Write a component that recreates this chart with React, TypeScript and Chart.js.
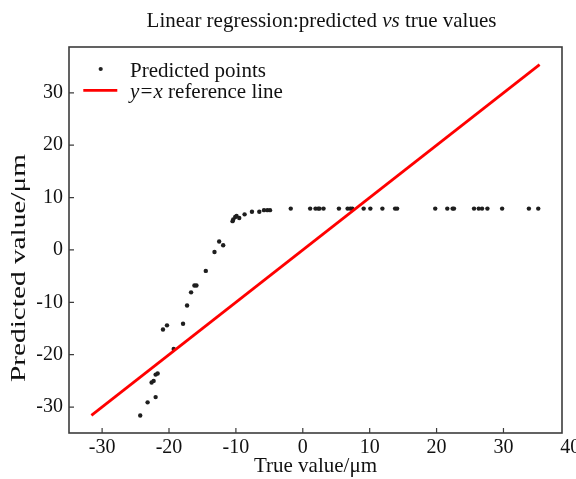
import React, { useEffect, useRef } from "react";
import { Chart, registerables } from "chart.js";

Chart.register(...registerables);

const trueVals = [
  -24.3, -23.2, -22.0, -22.6, -22.3, -22.0, -21.7, -19.3, -20.9, -20.3,
  -17.9, -17.3, -16.7, -16.2, -15.9, -14.5, -13.2, -12.5, -11.9, -10.5,
  -10.4, -10.1, -9.9, -9.5, -8.7, -7.6, -6.5, -5.8, -5.3, -4.9,
  -1.8, 1.1, 1.9, 2.3, 2.5, 3.1, 5.4, 6.7, 7.1, 7.4,
  9.1, 10.1, 11.9, 13.8, 14.1, 19.8, 21.6, 22.4, 22.6, 25.6,
  26.3, 26.8, 27.6, 29.8, 33.8, 35.2,
];
const predVals = [
  -31.6, -29.1, -28.1, -25.3, -25.0, -23.8, -23.6, -18.9, -15.2, -14.4,
  -14.1, -10.6, -8.1, -6.8, -6.8, -4.0, -0.4, 1.6, 0.9, 5.5,
  5.8, 6.3, 6.5, 6.1, 6.8, 7.3, 7.3, 7.6, 7.6, 7.6,
  7.9, 7.9, 7.9, 7.9, 7.9, 7.9, 7.9, 7.9, 7.9, 7.9,
  7.9, 7.9, 7.9, 7.9, 7.9, 7.9, 7.9, 7.9, 7.9, 7.9,
  7.9, 7.9, 7.9, 7.9, 7.9, 7.9,
];
const refLine = [-31.6, 35.4];
const xTicks = [-30, -20, -10, 0, 10, 20, 30, 40];
const yTicks = [-30, -20, -10, 0, 10, 20, 30];
const axisMin = -34.95;
const axisMax = 38.75;
const yTitle = "Predicted value/μm";

const FONT = "'Liberation Serif', 'Times New Roman', serif";
const FRAME = "#3c3c3c";

const framePlugin = {
  id: "frameAndTicks",
  afterDraw(chart: any) {
    const { ctx, chartArea } = chart;
    const { left, right, top, bottom } = chartArea;
    const xs = chart.scales.x;
    const ys = chart.scales.y;
    ctx.save();
    ctx.strokeStyle = FRAME;
    ctx.lineWidth = 1.6;
    ctx.strokeRect(left, top, right - left, bottom - top);
    ctx.lineWidth = 1.2;
    ctx.beginPath();
    for (const v of xTicks) {
      const px = xs.getPixelForValue(v);
      if (px > right + 0.5) continue;
      ctx.moveTo(px, bottom);
      ctx.lineTo(px, bottom - 5);
    }
    for (const v of yTicks) {
      const py = ys.getPixelForValue(v);
      ctx.moveTo(left, py);
      ctx.lineTo(left + 5, py);
    }
    ctx.stroke();

    // Title
    ctx.fillStyle = "#111";
    ctx.textBaseline = "alphabetic";
    const parts = [
      { t: "Linear regression:predicted ", f: `21px ${FONT}` },
      { t: "vs", f: `italic 21px ${FONT}` },
      { t: " true values", f: `21px ${FONT}` },
    ];
    let total = 0;
    for (const p of parts) {
      ctx.font = p.f;
      total += ctx.measureText(p.t).width;
    }
    let x = 321.5 - total / 2;
    ctx.textAlign = "left";
    for (const p of parts) {
      ctx.font = p.f;
      ctx.fillText(p.t, x, 27);
      x += ctx.measureText(p.t).width;
    }

    // Y axis title (stretched along its length as in the reference)
    ctx.save();
    ctx.font = `20px ${FONT}`;
    const natural = ctx.measureText(yTitle).width;
    const target = 228;
    ctx.translate(24.5, 268);
    ctx.rotate(-Math.PI / 2);
    ctx.scale(target / natural, 1);
    ctx.textAlign = "center";
    ctx.textBaseline = "alphabetic";
    ctx.fillText(yTitle, 0, 0);
    ctx.restore();

    // Legend
    const lx = left;
    const ly = top;
    ctx.fillStyle = "#222";
    ctx.beginPath();
    ctx.arc(lx + 31.7, ly + 22, 2.1, 0, Math.PI * 2);
    ctx.fill();
    ctx.font = `21px ${FONT}`;
    ctx.fillStyle = "#111";
    ctx.textAlign = "left";
    ctx.fillText("Predicted points", lx + 61, ly + 30);
    ctx.strokeStyle = "#ff0000";
    ctx.lineWidth = 2.8;
    ctx.beginPath();
    ctx.moveTo(lx + 14.3, ly + 43.4);
    ctx.lineTo(lx + 48.3, ly + 43.4);
    ctx.stroke();
    ctx.font = `italic 21px ${FONT}`;
    ctx.fillText("y=x", lx + 61, ly + 51);
    const w = ctx.measureText("y=x").width;
    ctx.font = `21px ${FONT}`;
    ctx.fillText(" reference line", lx + 61 + w, ly + 51);
    ctx.restore();
  },
};

export default function App() {
  const ref = useRef<HTMLCanvasElement | null>(null);
  useEffect(() => {
    if (!ref.current) return;
    const points = trueVals.map((v, i) => ({ x: v, y: predVals[i] }));
    const line = refLine.map((v) => ({ x: v, y: v }));
    const chart = new Chart(ref.current, {
      type: "scatter",
      data: {
        datasets: [
          {
            type: "line",
            label: "y=x reference line",
            data: line,
            borderColor: "#ff0000",
            borderWidth: 2.8,
            pointRadius: 0,
            fill: false,
          } as any,
          {
            label: "Predicted points",
            data: points,
            backgroundColor: "#1e1e1e",
            borderColor: "#1e1e1e",
            pointRadius: 2.2,
            borderWidth: 0,
          },
        ],
      },
      options: {
        responsive: false,
        animation: false,
        layout: { padding: { left: 0, right: 14, top: 47, bottom: 0 } },
        plugins: {
          legend: { display: false },
          title: { display: false },
          tooltip: { enabled: false },
        },
        scales: {
          x: {
            type: "linear",
            min: axisMin,
            max: axisMax,
            grid: { display: false, drawTicks: false },
            border: { display: false },
            ticks: {
              font: { family: FONT, size: 20 },
              color: "#111",
              padding: 3,
              autoSkip: false,
              maxRotation: 0,
            },
            title: {
              display: true,
              text: "True value/μm",
              font: { family: FONT, size: 21 },
              color: "#111",
              padding: { top: 0, bottom: 0 },
            },
            afterBuildTicks: (s: any) => {
              s.ticks = xTicks.map((v) => ({ value: v }));
            },
            afterFit: (s: any) => {
              s.height = 46;
              s.paddingLeft = 0;
              s.paddingRight = 0;
            },
          },
          y: {
            type: "linear",
            min: axisMin,
            max: axisMax,
            grid: { display: false, drawTicks: false },
            border: { display: false },
            ticks: {
              font: { family: FONT, size: 20 },
              color: "#111",
              padding: 6,
              autoSkip: false,
            },
            title: { display: false },
            afterBuildTicks: (s: any) => {
              s.ticks = yTicks.map((v) => ({ value: v }));
            },
            afterFit: (s: any) => {
              s.width = 69;
              s.paddingTop = 0;
              s.paddingBottom = 0;
            },
          },
        },
      },
      plugins: [framePlugin],
    });
    return () => chart.destroy();
  }, []);
  return (
    <canvas
      ref={ref}
      width={576}
      height={479}
      style={{ position: "absolute", left: 0, top: 0, width: 576, height: 479, background: "#fff" }}
    />
  );
}
